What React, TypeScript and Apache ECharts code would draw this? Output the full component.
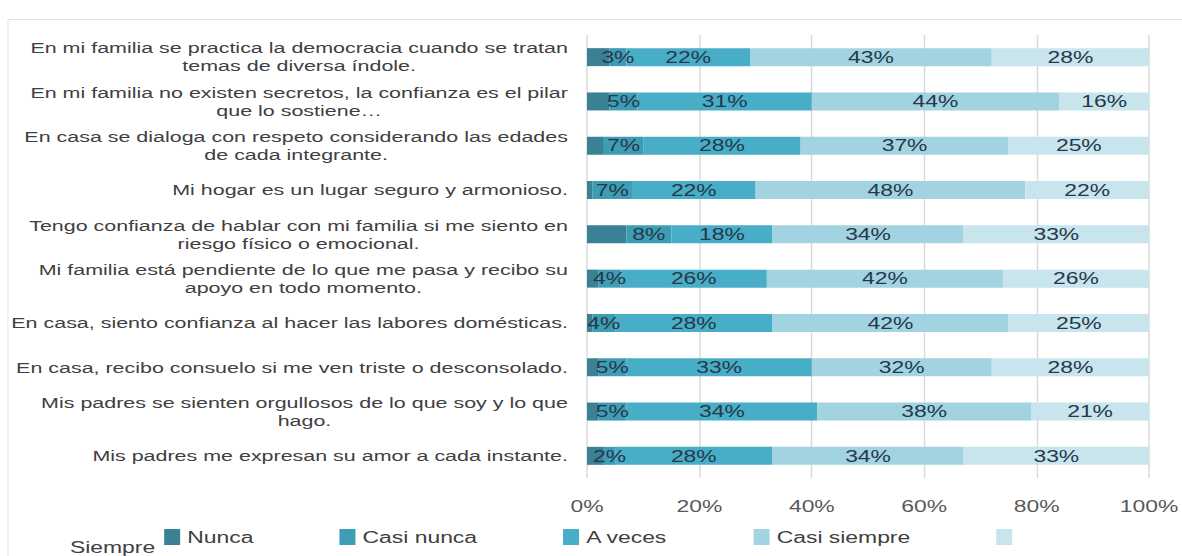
import React, { useEffect, useRef } from 'react';
import * as echarts from 'echarts';

const categories = [
  'En mi familia se practica la democracia cuando se tratan\ntemas de diversa índole.',
  'En mi familia no existen secretos, la confianza es el pilar\nque lo sostiene…',
  'En casa se dialoga con respeto considerando las edades\nde cada integrante.',
  'Mi hogar es un lugar seguro y armonioso.',
  'Tengo confianza de hablar con mi familia si me siento en\nriesgo físico o emocional.',
  'Mi familia está pendiente de lo que me pasa y recibo su\napoyo en todo momento.',
  'En casa, siento confianza al hacer las labores domésticas.',
  'En casa, recibo consuelo si me ven triste o desconsolado.',
  'Mis padres se sienten orgullosos de lo que soy y lo que\nhago.',
  'Mis padres me expresan su amor a cada instante.',
];

const seriesNames = ['Nunca', 'Casi nunca', 'A veces', 'Casi siempre', 'Siempre'];

const nunca = [4, 4, 3, 1, 7, 2, 1, 2, 2, 3];
const casiNunca = [3, 5, 7, 7, 8, 4, 4, 5, 5, 2];
const aVeces = [22, 31, 28, 22, 18, 26, 28, 33, 34, 28];
const casiSiempre = [43, 44, 37, 48, 34, 42, 42, 32, 38, 34];
const siempre = [28, 16, 25, 22, 33, 26, 25, 28, 21, 33];

const seriesValues = [nunca, casiNunca, aVeces, casiSiempre, siempre];
const seriesColors = ['#3a8196', '#3d9db4', '#48adc6', '#a2d3e1', '#c8e4ec'];
const showLabel = [false, true, true, true, true];

const xMin = 0;
const xMax = 100;
const xInterval = 20;

// The reference is horizontally stretched; render narrower and stretch.
const K = 1.43;
const W = 1182 / K;
const H = 556;
const FONT = '"Liberation Sans", Arial, sans-serif';

export default function App() {
  const ref = useRef<HTMLDivElement>(null);

  useEffect(() => {
    document.body.style.margin = '0';
    document.body.style.overflow = 'hidden';
    document.documentElement.style.overflow = 'hidden';
    if (!ref.current) return;
    const chart = echarts.init(ref.current, undefined, { renderer: 'svg' });
    chart.setOption({
      animation: false,
      backgroundColor: '#ffffff',
      textStyle: { fontFamily: FONT },
      grid: {
        left: 587 / K,
        right: 19 / K,
        top: 35,
        height: 443,
        containLabel: false,
      },
      xAxis: {
        type: 'value',
        min: xMin,
        max: xMax,
        interval: xInterval,
        axisLine: { show: false },
        axisTick: { show: false },
        splitLine: { show: true, lineStyle: { color: '#d9d9d9', width: 1 } },
        axisLabel: {
          formatter: '{value}%',
          margin: 20,
          fontSize: 16,
          color: '#595959',
          fontFamily: FONT,
        },
      },
      yAxis: {
        type: 'category',
        inverse: true,
        data: categories,
        axisLine: { show: false },
        axisTick: { show: false },
        splitLine: { show: false },
        axisLabel: {
          margin: 19 / K,
          align: 'right',
          formatter: (value: string) =>
            value
              .split('\n')
              .map((l) => `{c|${l}}`)
              .join('\n'),
          rich: {
            c: {
              align: 'center',
              fontSize: 15,
              lineHeight: 18,
              color: '#404040',
              fontFamily: FONT,
            },
          },
        },
      },
      legend: {
        data: seriesNames,
        left: 157 / K,
        top: 524,
        itemWidth: 16 / K,
        itemHeight: 16,
        itemGap: 86 / K,
        icon: 'rect',
        formatter: (name: string) => (name === 'Siempre' ? '' : name),
        textStyle: { fontSize: 16, color: '#404040', fontFamily: FONT },
      },
      graphic: [
        {
          type: 'line',
          shape: { x1: 8 / K, y1: 19.5, x2: W, y2: 19.5 },
          style: { stroke: '#e2e2e2', lineWidth: 1 },
          silent: true,
        },
        {
          type: 'line',
          shape: { x1: 8 / K, y1: 19.5, x2: 8 / K, y2: H },
          style: { stroke: '#e2e2e2', lineWidth: 1 / K },
          silent: true,
        },
        {
          type: 'text',
          left: 70 / K,
          top: 539,
          style: { text: 'Siempre', fontSize: 16, fill: '#404040', fontFamily: FONT },
          silent: true,
        },
      ],
      series: seriesNames.map((name, i) => ({
        name,
        type: 'bar',
        stack: 'total',
        barWidth: 18,
        data: seriesValues[i],
        itemStyle: { color: seriesColors[i] },
        label: {
          show: showLabel[i],
          position: 'inside',
          formatter: '{c}%',
          fontSize: 16,
          color: '#26384a',
          fontFamily: FONT,
        },
      })),
    });
    return () => chart.dispose();
  }, []);

  return (
    <div
      style={{
        position: 'absolute',
        left: 0,
        top: 0,
        width: 1182,
        height: H,
        overflow: 'hidden',
        background: '#ffffff',
      }}
    >
      <div
        ref={ref}
        style={{
          position: 'absolute',
          left: 0,
          top: 0,
          width: W,
          height: H,
          transform: `scaleX(${K})`,
          transformOrigin: '0 0',
        }}
      />
    </div>
  );
}
